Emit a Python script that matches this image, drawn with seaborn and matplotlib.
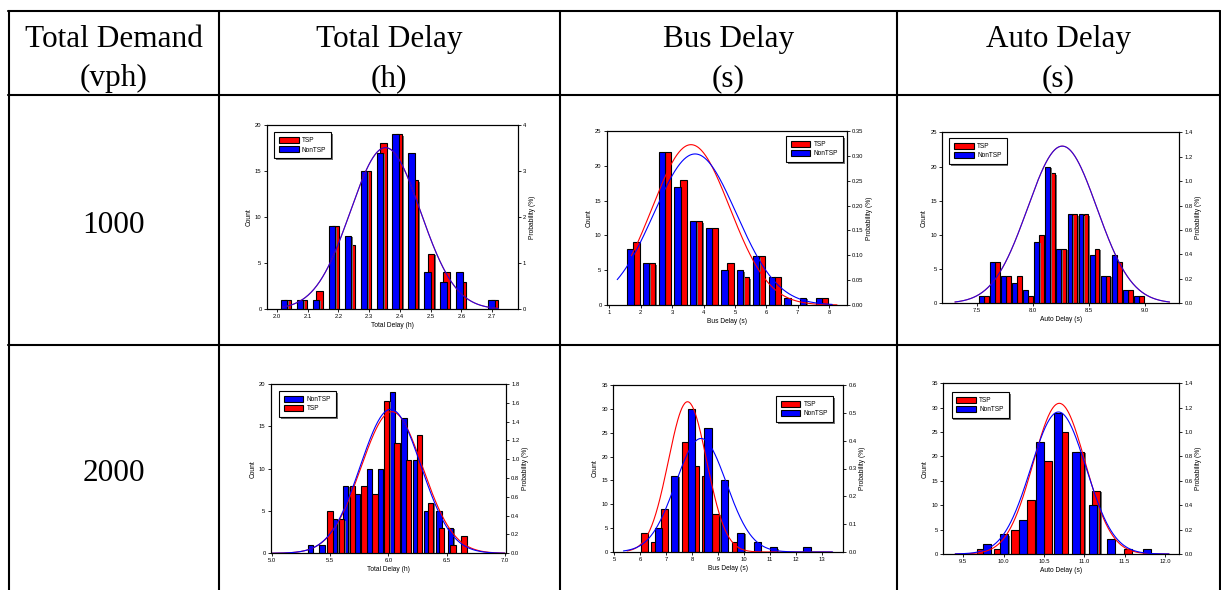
import numpy as np
import matplotlib
matplotlib.use("Agg")
import matplotlib.pyplot as plt
import matplotlib.patheffects as pe
from matplotlib.patches import Patch
from matplotlib.lines import Line2D
import seaborn as sns
import pandas as pd

# ---------------- data ----------------
header_top = ["Total Demand", "Total Delay", "Bus Delay", "Auto Delay"]
header_bot = ["(vph)", "(h)", "(s)", "(s)"]
row_labels = ["1000", "2000"]

# Row 1000, Total Delay (h)
r1_tot_non_x = [2.024, 2.076, 2.128, 2.180, 2.231, 2.283, 2.335, 2.386, 2.438, 2.490, 2.541, 2.593, 2.697]
r1_tot_non_n = [1, 1, 1, 9, 8, 15, 17, 19, 17, 4, 3, 4, 1]
r1_tot_tsp_x = [2.035, 2.087, 2.139, 2.191, 2.242, 2.294, 2.346, 2.397, 2.449, 2.501, 2.552, 2.604, 2.708]
r1_tot_tsp_n = [1, 1, 2, 9, 7, 15, 18, 19, 14, 6, 4, 3, 1]
r1_tot_fit = {"TSP": (2.353, 0.1137, 2.02, 2.72), "NonTSP": (2.353, 0.1137, 2.02, 2.72)}

# Row 1000, Bus Delay (s)
r1_bus_non_x = [1.67, 2.17, 2.67, 3.17, 3.67, 4.17, 4.67, 5.17, 5.67, 6.17, 6.67, 7.17, 7.67]
r1_bus_non_n = [8, 6, 22, 17, 12, 11, 5, 5, 7, 4, 1, 1, 1]
r1_bus_tsp_x = [1.86, 2.36, 2.86, 3.36, 3.86, 4.36, 4.86, 5.36, 5.86, 6.36, 7.86]
r1_bus_tsp_n = [9, 6, 22, 18, 12, 11, 6, 4, 7, 4, 1]
r1_bus_fit = {"TSP": (3.60, 1.237, 1.70, 8.25), "NonTSP": (3.73, 1.313, 1.25, 8.10)}

# Row 1000, Auto Delay (s)
r1_auto_non_x = [7.537, 7.636, 7.735, 7.834, 7.933, 8.032, 8.131, 8.230, 8.329, 8.428, 8.527, 8.626, 8.725, 8.824, 8.923]
r1_auto_non_n = [1, 6, 4, 3, 2, 9, 20, 8, 13, 13, 7, 4, 7, 2, 1]
r1_auto_tsp_x = [7.581, 7.680, 7.779, 7.878, 7.977, 8.076, 8.175, 8.274, 8.373, 8.472, 8.571, 8.670, 8.769, 8.868, 8.967]
r1_auto_tsp_n = [1, 6, 4, 4, 1, 10, 19, 8, 13, 13, 8, 4, 6, 2, 1]
r1_auto_fit = {"TSP": (8.26, 0.310, 7.30, 9.22), "NonTSP": (8.26, 0.310, 7.30, 9.22)}

# Row 2000, Total Delay (h)
r2_tot_non_x = [5.33, 5.43, 5.54, 5.635, 5.735, 5.835, 5.935, 6.035, 6.135, 6.235, 6.33, 6.435, 6.535]
r2_tot_non_n = [1, 1, 4, 8, 7, 10, 10, 19, 16, 11, 5, 5, 3]
r2_tot_tsp_x = [5.50, 5.60, 5.69, 5.79, 5.885, 5.985, 6.075, 6.17, 6.265, 6.365, 6.455, 6.555, 6.65]
r2_tot_tsp_n = [5, 4, 8, 8, 7, 18, 13, 11, 14, 6, 3, 1, 2]
r2_tot_fit = {"TSP": (6.03, 0.2649, 5.0, 7.0), "NonTSP": (6.02, 0.2606, 5.0, 7.0)}

# Row 2000, Bus Delay (s)
r2_bus_non_x = [6.70, 7.34, 7.98, 8.62, 9.25, 9.87, 10.52, 11.15, 12.43]
r2_bus_non_n = [5, 16, 30, 26, 15, 4, 2, 1, 1]
r2_bus_tsp_x = [6.16, 6.55, 6.94, 7.74, 8.13, 8.52, 8.91, 9.69]
r2_bus_tsp_n = [4, 2, 9, 23, 18, 16, 8, 2]
r2_bus_fit = {"TSP": (7.83, 0.739, 5.50, 13.40), "NonTSP": (8.35, 0.978, 5.36, 13.42)}

# Row 2000, Auto Delay (s)
r2_auto_non_x = [9.79, 10.01, 10.235, 10.45, 10.675, 10.895, 11.11, 11.33, 11.775]
r2_auto_non_n = [2, 4, 7, 23, 29, 21, 10, 3, 1]
r2_auto_tsp_x = [9.72, 9.93, 10.145, 10.34, 10.55, 10.745, 10.95, 11.15, 11.54]
r2_auto_tsp_n = [1, 1, 5, 11, 19, 25, 21, 13, 1]
r2_auto_fit = {"TSP": (10.69, 0.3228, 9.40, 12.05), "NonTSP": (10.68, 0.3425, 9.40, 12.05)}

# ---------------- styling ----------------
W, H = 1221, 590
sns.set_theme(style="ticks")
plt.rcParams['font.family'] = ['Liberation Sans', 'DejaVu Sans']
plt.rcParams['text.color'] = 'black'
plt.rcParams['axes.labelcolor'] = 'black'
plt.rcParams['xtick.color'] = 'black'
plt.rcParams['ytick.color'] = 'black'
COL = {"TSP": "#ff0000", "NonTSP": "#0000ff"}

fig = plt.figure(figsize=(W / 100, H / 100), dpi=100)
fig.patch.set_facecolor("white")


def prect(l, t, r, b):
    return [l / W, 1 - b / H, (r - l) / W, (b - t) / H]


def npdf(x, mu, sd):
    return np.exp(-0.5 * ((x - mu) / sd) ** 2) / (sd * np.sqrt(2 * np.pi))


def style_axis(a):
    for s in a.spines.values():
        s.set_linewidth(0.8)
        s.set_color("black")
    a.tick_params(direction="out", length=2.2, width=0.6, pad=1.5,
                  labelsize=4.2, colors="black")


def shadow_fx(off):
    return [pe.SimplePatchShadow(offset=(off, -off), shadow_rgbFace="0.45", alpha=1.0), pe.Normal()]


def panel(rect, xlim, xticks, xfmt, ylim, yticks, y2lim, y2ticks, y2fmt, xlabel,
          width, tsp, non, fits, loc, anchor, order, front):
    ax = fig.add_axes(prect(*rect))
    ax.set_facecolor("white")
    df = pd.concat([
        pd.DataFrame({"x": tsp[0], "n": tsp[1], "grp": "TSP"}),
        pd.DataFrame({"x": non[0], "n": non[1], "grp": "NonTSP"}),
    ])
    back = "TSP" if front == "NonTSP" else "NonTSP"
    for z, g in ((2, back), (3, front)):
        d = df[df.grp == g]
        bars = ax.bar(d.x, d.n, width=width, color=COL[g], edgecolor="black",
                      linewidth=0.8, zorder=z)
        for b in bars:
            b.set_path_effects(shadow_fx(1.0))
    ax.set_xlim(*xlim)
    ax.set_ylim(*ylim)
    ax.set_xticks(xticks)
    ax.set_xticklabels([xfmt.format(v) for v in xticks])
    ax.set_yticks(yticks)
    ax.set_xlabel(xlabel, fontsize=4.8, labelpad=2)
    ax.set_ylabel("Count", fontsize=4.8, labelpad=2)
    style_axis(ax)

    ax2 = ax.twinx()
    for g in ("TSP", "NonTSP"):
        mu, sd, x0, x1 = fits[g]
        xs = np.linspace(x0, x1, 300)
        sns.lineplot(x=xs, y=npdf(xs, mu, sd), ax=ax2, color=COL[g], lw=0.8,
                     alpha=0.85 if fits["TSP"] == fits["NonTSP"] else 1.0)
    ax2.set_ylim(*y2lim)
    ax2.set_yticks(y2ticks)
    ax2.set_yticklabels([y2fmt.format(v) for v in y2ticks])
    ax2.set_ylabel("Probability (%)", fontsize=4.8, labelpad=2)
    style_axis(ax2)

    handles = [Patch(facecolor=COL[g], edgecolor="black", linewidth=0.8, label=g) for g in order]
    leg = ax2.legend(handles=handles, loc=loc, bbox_to_anchor=anchor, fontsize=4.7,
                     frameon=True, fancybox=False, shadow=False,
                     handlelength=3.0, handleheight=1.0, handletextpad=0.5,
                     borderpad=0.75, labelspacing=0.3, borderaxespad=0.0)
    fr = leg.get_frame()
    fr.set_edgecolor("black")
    fr.set_linewidth(0.8)
    fr.set_alpha(1.0)
    fr.set_path_effects(shadow_fx(1.3))
    return ax


panel((266.7, 125, 517.7, 309.3), (1.9675, 2.7825), [2.0, 2.1, 2.2, 2.3, 2.4, 2.5, 2.6, 2.7], "{:.1f}",
      (0, 20), [0, 5, 10, 15, 20], (0, 4), [0, 1, 2, 3, 4], "{:.0f}", "Total Delay (h)",
      0.0215, (r1_tot_tsp_x, r1_tot_tsp_n), (r1_tot_non_x, r1_tot_non_n), r1_tot_fit,
      "upper left", (0.03, 0.96), ["TSP", "NonTSP"], "NonTSP")

panel((606.7, 131, 846.7, 305), (0.915, 8.56), [1, 2, 3, 4, 5, 6, 7, 8], "{:.0f}",
      (0, 25), [0, 5, 10, 15, 20, 25], (0, 0.35), [0, .05, .10, .15, .20, .25, .30, .35], "{:.2f}",
      "Bus Delay (s)", 0.20, (r1_bus_tsp_x, r1_bus_tsp_n), (r1_bus_non_x, r1_bus_non_n), r1_bus_fit,
      "upper right", (0.985, 0.97), ["TSP", "NonTSP"], "NonTSP")

panel((942.3, 132.3, 1179.3, 303.3), (7.187, 9.307), [7.5, 8.0, 8.5, 9.0], "{:.1f}",
      (0, 25), [0, 5, 10, 15, 20, 25], (0, 1.4), [0, .2, .4, .6, .8, 1.0, 1.2, 1.4], "{:.1f}",
      "Auto Delay (s)", 0.043, (r1_auto_tsp_x, r1_auto_tsp_n), (r1_auto_non_x, r1_auto_non_n), r1_auto_fit,
      "upper left", (0.03, 0.965), ["TSP", "NonTSP"], "NonTSP")

panel((270.7, 384, 506, 553.3), (4.99, 7.01), [5.0, 5.5, 6.0, 6.5, 7.0], "{:.1f}",
      (0, 20), [0, 5, 10, 15, 20], (0, 1.8), [0, .2, .4, .6, .8, 1.0, 1.2, 1.4, 1.6, 1.8], "{:.1f}",
      "Total Delay (h)", 0.045, (r2_tot_tsp_x, r2_tot_tsp_n), (r2_tot_non_x, r2_tot_non_n), r2_tot_fit,
      "upper left", (0.035, 0.96), ["NonTSP", "TSP"], "TSP")

panel((613.3, 385, 843.3, 552), (4.97, 13.83), [5, 6, 7, 8, 9, 10, 11, 12, 13], "{:.0f}",
      (0, 35), [0, 5, 10, 15, 20, 25, 30, 35], (0, 0.6), [0, .1, .2, .3, .4, .5, .6], "{:.1f}",
      "Bus Delay (s)", 0.28, (r2_bus_tsp_x, r2_bus_tsp_n), (r2_bus_non_x, r2_bus_non_n), r2_bus_fit,
      "upper right", (0.955, 0.935), ["TSP", "NonTSP"], "NonTSP")

panel((943.3, 383.3, 1179.3, 554), (9.252, 12.178), [9.5, 10.0, 10.5, 11.0, 11.5, 12.0], "{:.1f}",
      (0, 35), [0, 5, 10, 15, 20, 25, 30, 35], (0, 1.4), [0, .2, .4, .6, .8, 1.0, 1.2, 1.4], "{:.1f}",
      "Auto Delay (s)", 0.10, (r2_auto_tsp_x, r2_auto_tsp_n), (r2_auto_non_x, r2_auto_non_n), r2_auto_fit,
      "upper left", (0.035, 0.95), ["TSP", "NonTSP"], "NonTSP")

# ---------------- table grid and text ----------------
LW = 1.5
def hline(y, x0, x1):
    fig.add_artist(Line2D([x0 / W, x1 / W], [1 - y / H, 1 - y / H], color="black", lw=LW))

def vline(x, y0, y1):
    fig.add_artist(Line2D([x / W, x / W], [1 - y0 / H, 1 - y1 / H], color="black", lw=LW))

col_x = [8.5, 219, 559.5, 897, 1219.5]
for y in (10.5, 95, 345):
    hline(y, col_x[0] - 0.7, col_x[-1] + 0.7)
for x in col_x:
    vline(x, 10.5, 592)

centers = [(col_x[i] + col_x[i + 1]) / 2 for i in range(4)]
serif = ['Liberation Serif', 'DejaVu Serif']
for cx, t1, t2 in zip(centers, header_top, header_bot):
    fig.text(cx / W, 1 - 47 / H, t1, ha="center", va="baseline", fontsize=22.5, family=serif, color="black")
    fig.text(cx / W, 1 - 86 / H, t2, ha="center", va="baseline", fontsize=22.5, family=serif, color="black")
for yb, lab in zip((233, 481), row_labels):
    fig.text(centers[0] / W, 1 - yb / H, lab, ha="center", va="baseline", fontsize=22.5, family=serif, color="black")

fig.savefig("out.png", dpi=100, facecolor="white")
